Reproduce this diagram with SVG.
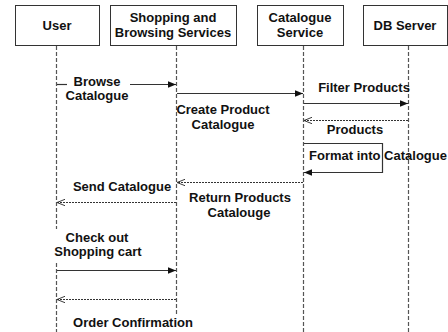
<svg xmlns="http://www.w3.org/2000/svg" width="448" height="332" viewBox="0 0 448 332">
  <style>
    .box { fill: #ffffff; stroke: #333333; stroke-width: 1; }
    .lbl { font-family: "Liberation Sans", Arial, sans-serif; font-size: 13px; font-weight: bold; fill: #111111; }
    .life { stroke: #555555; stroke-width: 1.2; stroke-dasharray: 4 2; fill: none; }
    .call { stroke: #333333; stroke-width: 1.2; fill: none; }
    .ret { stroke: #333333; stroke-width: 1; stroke-dasharray: 2 1; fill: none; }
  </style>
  <defs>
    <marker id="filled" viewBox="0 0 10 10" refX="10" refY="5" markerWidth="8" markerHeight="8" markerUnits="userSpaceOnUse" orient="auto">
      <path d="M0,1 L10,5 L0,9 Z" fill="#111111"/>
    </marker>
    <marker id="open" viewBox="0 0 10 10" refX="10" refY="5" markerWidth="8" markerHeight="8" markerUnits="userSpaceOnUse" orient="auto">
      <path d="M0,1 L10,5 L0,9" fill="none" stroke="#333333" stroke-width="1.2"/>
    </marker>
  </defs>

  <!-- participants -->
  <g id="user">
    <rect class="box" x="15.5" y="5.5" width="84" height="40"/>
    <text class="lbl" x="57" y="30" text-anchor="middle">User</text>
    <line class="life" x1="56.5" y1="46" x2="56.5" y2="229"/>
    <line class="life" x1="56.5" y1="263" x2="56.5" y2="332"/>
  </g>
  <g id="shopping">
    <rect class="box" x="110.5" y="5.5" width="126" height="40"/>
    <text class="lbl" x="173" y="22" text-anchor="middle">Shopping and</text>
    <text class="lbl" x="173" y="37" text-anchor="middle">Browsing Services</text>
    <line class="life" x1="176.5" y1="46" x2="176.5" y2="314"/>
  </g>
  <g id="catalogue">
    <rect class="box" x="257.5" y="5.5" width="86" height="40"/>
    <text class="lbl" x="300" y="22" text-anchor="middle">Catalogue</text>
    <text class="lbl" x="300" y="37" text-anchor="middle">Service</text>
    <line class="life" x1="303.5" y1="46" x2="303.5" y2="332"/>
  </g>
  <g id="dbserver">
    <rect class="box" x="363.5" y="5.5" width="84" height="40"/>
    <text class="lbl" x="405" y="30" text-anchor="middle">DB Server</text>
    <line class="life" x1="408.5" y1="46" x2="408.5" y2="332"/>
  </g>

  <!-- messages -->
  <g id="connectors">
    <line class="call" x1="57" y1="84.5" x2="67" y2="84.5"/>
    <line class="call" x1="130" y1="84.5" x2="176" y2="84.5" marker-end="url(#filled)"/>
    <line class="call" x1="177" y1="93.5" x2="303" y2="93.5" marker-end="url(#filled)"/>
    <line class="call" x1="304" y1="103.5" x2="408" y2="103.5" marker-end="url(#filled)"/>
    <line class="ret" x1="408" y1="120.5" x2="304" y2="120.5" marker-end="url(#open)"/>
    <polyline class="call" points="304,143.5 382.5,143.5 382.5,172.5 304,172.5" marker-end="url(#filled)"/>
    <line class="ret" x1="303" y1="182.5" x2="177" y2="182.5" marker-end="url(#open)"/>
    <line class="ret" x1="176" y1="202.5" x2="57" y2="202.5" marker-end="url(#open)"/>
    <line class="call" x1="57" y1="270.5" x2="176" y2="270.5" marker-end="url(#filled)"/>
    <line class="ret" x1="176" y1="299.5" x2="57" y2="299.5" marker-end="url(#open)"/>
  </g>

  <!-- message labels -->
  <g id="labels">
    <text class="lbl" x="97" y="86" text-anchor="middle">Browse</text>
    <text class="lbl" x="97" y="100" text-anchor="middle">Catalogue</text>
    <text class="lbl" x="223" y="114" text-anchor="middle">Create Product</text>
    <text class="lbl" x="223" y="129" text-anchor="middle">Catalogue</text>
    <text class="lbl" x="364" y="92" text-anchor="middle">Filter Products</text>
    <text class="lbl" x="355" y="134" text-anchor="middle">Products</text>
    <text class="lbl" x="309" y="160">Format into Catalogue</text>
    <text class="lbl" x="240" y="202" text-anchor="middle">Return Products</text>
    <text class="lbl" x="239" y="217" text-anchor="middle">Catalouge</text>
    <text class="lbl" x="122" y="191" text-anchor="middle">Send Catalogue</text>
    <text class="lbl" x="97" y="242" text-anchor="middle">Check out</text>
    <text class="lbl" x="98" y="256" text-anchor="middle">Shopping cart</text>
    <text class="lbl" x="133" y="327" text-anchor="middle">Order Confirmation</text>
  </g>
</svg>
